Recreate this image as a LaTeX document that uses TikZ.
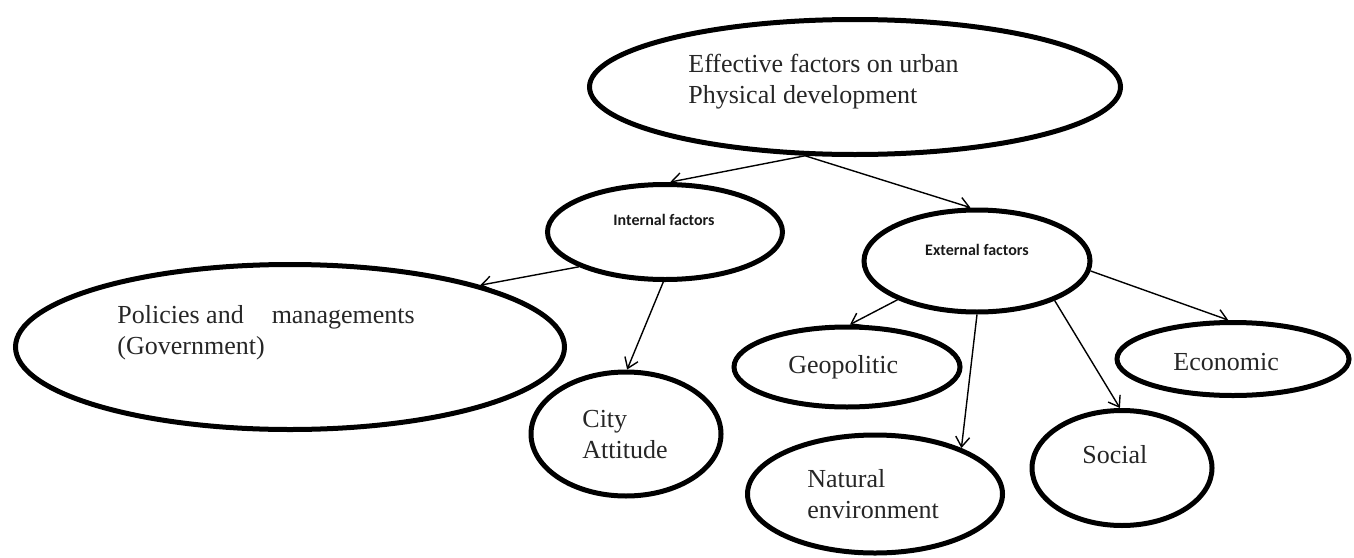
\documentclass[tikz,border=0pt]{standalone}
\usepackage{fontspec}
\setmainfont{Liberation Serif}
\newfontfamily\calibri{Carlito}
\usetikzlibrary{shapes.geometric, arrows.meta}

\begin{document}
\begin{tikzpicture}[x=0.5pt, y=-0.5pt,
    oval/.style={draw, ellipse, line width=2.5pt, inner sep=0pt},
    txt/.style={anchor=base west, inner sep=0pt, align=left, text=black!85,
        font=\fontsize{13}{15.5}\selectfont},
    small/.style={anchor=base, inner sep=0pt, text=black!90,
        font=\calibri\bfseries\fontsize{8}{9.6}\selectfont},
    link/.style={->, line width=0.7pt},
    >={Straight Barb[length=5pt, width=7pt]}]
    \useasboundingbox (0,0) rectangle (1354,557);

    % the ovals
    \node[oval, minimum width=265.5pt, minimum height=67.5pt] (top) at (855,87) {};
    \node[oval, minimum width=117.5pt, minimum height=47.5pt] (int) at (665,232) {};
    \node[oval, minimum width=113pt, minimum height=51pt] (ext) at (977,261) {};
    \node[oval, minimum width=274.5pt, minimum height=82.5pt] (pol) at (290,347) {};
    \node[oval, minimum width=95pt, minimum height=62pt] (city) at (626,434) {};
    \node[oval, minimum width=113pt, minimum height=40pt] (geo) at (847,367) {};
    \node[oval, minimum width=127.5pt, minimum height=59pt] (nat) at (875,494) {};
    \node[oval, minimum width=90pt, minimum height=57.5pt] (soc) at (1122,468) {};
    \node[oval, minimum width=116pt, minimum height=36.5pt] (eco) at (1233,359) {};

    % the texts (base = last line)
    \node[txt] (topT) at (688,103) {Effective factors on urban\\Physical development};
    \node[small] (intT) at (664,225) {Internal factors};
    \node[small] (extT) at (977,255) {External factors};
    \node[txt] (polT) at (117,354) {Policies and\hspace{14pt}managements\\(Government)};
    \node[txt] (cityT) at (582,458) {City\\Attitude};
    \node[txt] (geoT) at (788,373) {Geopolitic};
    \node[txt] (natT) at (807,518) {Natural\\environment};
    \node[txt] (socT) at (1082,463) {Social};
    \node[txt] (ecoT) at (1173,370) {Economic};

    % the arrows
    \draw[link] (top.234) -- (int.84);
    \draw[link] (top.234) -- (ext.97);
    \draw[link] (int.202) -- (pol.18);
    \draw[link] (int.268) -- (city.89);
    \draw[link] (ext.206) -- (geo.86);
    \draw[link] (ext.270) -- (nat.28);
    \draw[link] (ext.333) -- (soc.92);
    \draw[link] (ext.355) -- (eco.97);
\end{tikzpicture}
\end{document}
